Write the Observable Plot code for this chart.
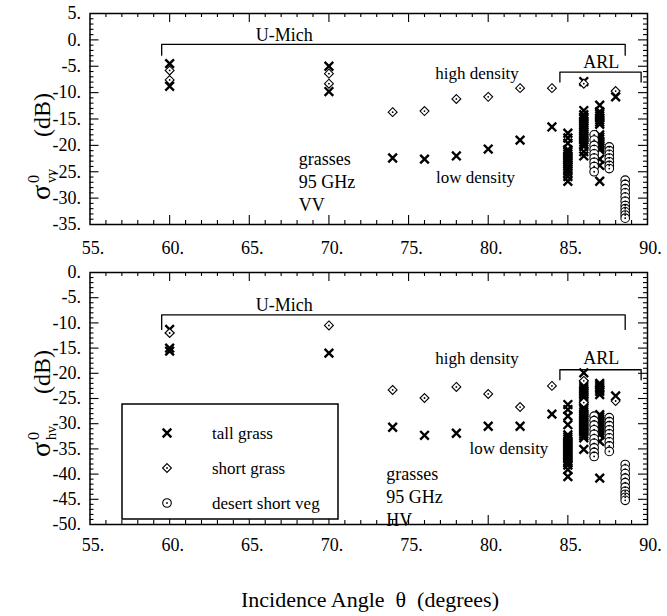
<!DOCTYPE html>
<html><head><meta charset="utf-8">
<script src="https://cdn.jsdelivr.net/npm/d3@7"></script>
<script src="https://cdn.jsdelivr.net/npm/@observablehq/plot@0.6"></script>
<style>
body{margin:0;background:#fff;}
#chart{position:relative;width:667px;height:616px;}
#chart svg{position:absolute;left:0;}
#chart svg text{font-family:"Liberation Serif","DejaVu Serif","Noto Serif",serif !important;}
</style></head><body><div id="chart"></div>
<script>
// ---------- data ----------
const xTickLabels = [55, 60, 65, 70, 75, 80, 85, 90];
const vvTickLabels = [5, 0, -5, -10, -15, -20, -25, -30, -35];
const hvTickLabels = [0, -5, -10, -15, -20, -25, -30, -35, -40, -45, -50];

// VV panel: [incidence angle, sigma0 dB]
const vvTallGrass = [[60,-4.5],[60,-8.8],[70,-5.0],[70,-9.8],[74,-22.4],[76,-22.6],[78,-22.0],[80,-20.7],[82,-19.0],[84,-16.5],[86,-7.9],[88,-10.8]];
const vvTallARL85 = [-17.7,-18.6,-19.6,-20.8,-21.2,-21.6,-22.0,-22.4,-22.8,-23.2,-23.6,-24.0,-24.4,-24.8,-25.2,-25.9,-26.8];
const vvTallARL86 = [-13.4,-14.2,-14.6,-15.0,-15.4,-15.8,-16.2,-16.6,-17.0,-17.4,-17.8,-18.2,-18.6,-19.0,-19.4,-19.8,-20.2,-21.2,-22.0];
const vvTallARL87 = [-12.4,-13.6,-14.0,-14.4,-14.8,-15.2,-15.6,-16.0,-18.0,-18.4,-18.8,-19.2,-19.6,-20.0,-20.4,-20.8,-22.6,-23.8,-26.8];
const vvShortGrass = [[60,-5.8],[60,-7.6],[70,-6.4],[70,-8.3],[74,-13.7],[76,-13.5],[78,-11.2],[80,-10.8],[82,-9.15],[84,-9.15],[86,-8.3],[88,-9.7]];
const vvDesert866 = [-18.0,-19.0,-20.0,-20.8,-21.6,-22.4,-23.2,-24.0,-25.0];
const vvDesert876 = [-20.3,-21.0,-21.7,-22.4,-23.1,-23.8,-24.4];
const vvDesert886 = [-26.6,-27.4,-28.2,-29.0,-29.8,-30.6,-31.4,-32.0,-32.6,-33.2,-33.8];

// HV panel
const hvTallGrass = [[60,-11.3],[60,-15.0],[60,-15.6],[70,-16.0],[74,-30.7],[76,-32.3],[78,-31.9],[80,-30.5],[82,-30.5],[84,-28.1],[88,-24.5]];
const hvTallARL85 = [-26.2,-27.2,-28.5,-30.2,-32.2,-32.6,-33.0,-33.4,-33.8,-34.2,-34.6,-35.0,-35.4,-35.8,-36.2,-36.6,-37.0,-37.4,-37.8,-38.2,-39.1,-40.5];
const hvTallARL86 = [-19.9,-22.2,-22.6,-23.0,-23.4,-23.8,-24.2,-24.6,-25.0,-25.5,-26.8,-27.2,-27.6,-28.0,-28.4,-28.8,-29.2,-29.6,-30.0,-30.4,-30.8,-31.2,-31.6,-32.0,-32.4,-32.8,-35.1];
const hvTallARL87 = [-22.0,-22.4,-22.8,-23.2,-23.6,-24.2,-28.2,-28.6,-29.0,-29.4,-29.8,-30.2,-30.6,-31.0,-31.4,-31.8,-32.2,-33.5,-40.8];
const hvShortGrass = [[60,-12.0],[70,-10.5],[74,-23.3],[76,-24.9],[78,-22.7],[80,-24.1],[82,-26.7],[84,-22.5],[86,-21.5],[86,-25.8],[88,-25.5]];
const hvDesert866 = [-28.5,-29.4,-30.3,-31.2,-32.1,-33.0,-33.9,-34.8,-35.7,-36.5];
const hvDesert876 = [-28.8,-29.6,-30.4,-31.2,-32.0,-32.8,-33.6,-34.4,-35.5];
const hvDesert886 = [-38.1,-39.0,-39.9,-40.8,-41.7,-42.6,-43.4,-44.0,-44.6,-45.2];

// annotations
const vvBrackets = [
  {label: "U-Mich", x1: 59.5, x2: 88.6, y: -0.85, end: -2.9, lx: 67.2, ly: 0.9},
  {label: "ARL", x1: 84.5, x2: 89.6, y: -6.1, end: -8.0, lx: 87.1, ly: -4.2}
];
const hvBrackets = [
  {label: "U-Mich", x1: 59.5, x2: 88.6, y: -8.4, end: -11.3, lx: 67.2, ly: -6.4},
  {label: "ARL", x1: 84.5, x2: 89.6, y: -19.3, end: -21.3, lx: 87.1, ly: -17.1}
];
const vvNotes = [{text: "high density", x: 79.3, y: -6.3}, {text: "low density", x: 79.2, y: -26.1}];
const hvNotes = [{text: "high density", x: 79.3, y: -17.1}, {text: "low density", x: 81.3, y: -34.9}];
const vvInfo = [{text: "grasses\n95 GHz\nVV", x: 68.1, y: -26.7}];
const hvInfo = [{text: "grasses\n95 GHz\nHV", x: 73.6, y: -44.2}];
const legendItems = ["tall grass", "short grass", "desert short veg"];

// ---------- drawing ----------
const FONT = "'Liberation Serif', 'DejaVu Serif', serif";
const fmt = d => (d < 0 ? "-" : "") + Math.abs(d) + ".";
const cols = list => list.flatMap(([a, vals]) => vals.map(v => [a, v]));

function panel(o) {
  const W = 667, ML = 89.5, MR = 20;
  const ph = o.height - o.marginTop - o.marginBottom;
  const pw = W - ML - MR;
  const [y0, y1] = o.yDomain;
  const xMinor = d3.range(56, 90).filter(d => d % 5 !== 0);
  const xMajor = [60, 65, 70, 75, 80, 85];
  const yMinor = d3.range(y0 + 1, y1).filter(d => d % 5 !== 0);
  const yMajor = o.yTicks.filter(d => d !== y0 && d !== y1);
  const tall = o.tall.concat(cols(o.tallCols));
  const desert = cols(o.desertCols);
  const bracketPts = o.brackets.flatMap((b, i) => [
    {i, x: b.x1, y: b.end}, {i, x: b.x1, y: b.y}, {i, x: b.x2, y: b.y}, {i, x: b.x2, y: b.end}
  ]);
  const tk = {stroke: "black", strokeWidth: 1.1};
  return Plot.plot({
    width: W, height: o.height,
    marginTop: o.marginTop, marginBottom: o.marginBottom, marginLeft: ML, marginRight: MR,
    x: {domain: [55, 90], label: null},
    y: {domain: o.yDomain, label: null},
    style: {fontFamily: FONT, fontSize: "18px", color: "black", background: "transparent"},
    marks: [
      Plot.axisX(xTickLabels, {tickSize: 0, tickPadding: o.xPad, tickFormat: fmt, fontSize: 18, dx: 3}),
      Plot.axisY(o.yTicks, {tickSize: 0, tickPadding: 9, tickFormat: fmt, fontSize: 18}),
      Plot.ruleX(xMinor, {x: d => d, insetTop: ph - 4, ...tk}),
      Plot.ruleX(xMinor, {x: d => d, insetBottom: ph - 4, ...tk}),
      Plot.ruleX(xMajor, {x: d => d, insetTop: ph - 9, ...tk}),
      Plot.ruleX(xMajor, {x: d => d, insetBottom: ph - 9, ...tk}),
      Plot.ruleY(yMinor, {y: d => d, insetRight: pw - 4, ...tk}),
      Plot.ruleY(yMinor, {y: d => d, insetLeft: pw - 4, ...tk}),
      Plot.ruleY(yMajor, {y: d => d, insetRight: pw - 9, ...tk}),
      Plot.ruleY(yMajor, {y: d => d, insetLeft: pw - 9, ...tk}),
      Plot.frame({stroke: "black", strokeWidth: 1.5}),
      Plot.line(bracketPts, {x: "x", y: "y", z: "i", stroke: "black", strokeWidth: 1.3}),
      Plot.text(o.brackets, {x: "lx", y: "ly", text: "label", fontSize: 18, fill: "black"}),
      Plot.text(o.notes, {x: "x", y: "y", text: "text", fontSize: 17, fill: "black"}),
      Plot.text(o.info, {x: "x", y: "y", text: "text", fontSize: 18, textAnchor: "start", lineHeight: 1.28, fill: "black"}),
      Plot.dot(tall, {x: d => d[0], y: d => d[1], symbol: "times", r: 4, stroke: "black", strokeWidth: 2.4}),
      Plot.dot(o.short, {x: d => d[0], y: d => d[1], symbol: "diamond2", r: 4, stroke: "black", fill: "white", strokeWidth: 1.1}),
      Plot.dot(o.short, {x: d => d[0], y: d => d[1], r: 0.9, fill: "black"}),
      Plot.dot(desert, {x: d => d[0], y: d => d[1], symbol: "circle", r: 4.3, stroke: "black", fill: "white", strokeWidth: 1.1}),
      Plot.dot(desert, {x: d => d[0], y: d => d[1], r: 0.9, fill: "black"})
    ]
  });
}

function yTitle(svg, sub, x, y) {
  const g = d3.select(svg).append("g")
    .attr("transform", `translate(${x},${y}) rotate(-90)`)
    .attr("text-anchor", "start").attr("fill", "black");
  g.append("text").attr("x", 0).attr("y", 0).attr("font-size", 28).attr("text-anchor", "start").text("σ");
  g.append("text").attr("x", 17).attr("y", -11).attr("font-size", 16).attr("text-anchor", "start").text("0");
  g.append("text").attr("x", 17).attr("y", 6).attr("font-size", 14).attr("text-anchor", "start").text(sub);
  g.append("text").attr("x", 63).attr("y", 0).attr("font-size", 24).attr("text-anchor", "start").text("(dB)");
}

const chartDiv = document.getElementById("chart");

const topSvg = panel({
  height: 262, marginTop: 13, marginBottom: 38, yDomain: [-35, 5], yTicks: vvTickLabels, xPad: 17,
  tall: vvTallGrass, tallCols: [[85, vvTallARL85], [86, vvTallARL86], [87, vvTallARL87]],
  short: vvShortGrass, desertCols: [[86.65, vvDesert866], [87.6, vvDesert876], [88.6, vvDesert886]],
  brackets: vvBrackets, notes: vvNotes, info: vvInfo
});
topSvg.style.top = "0px";
yTitle(topSvg, "vv", 50, 200);
chartDiv.appendChild(topSvg);

const botSvg = panel({
  height: 354, marginTop: 10, marginBottom: 92, yDomain: [-50, 0], yTicks: hvTickLabels, xPad: 14,
  tall: hvTallGrass, tallCols: [[85, hvTallARL85], [86, hvTallARL86], [87, hvTallARL87]],
  short: hvShortGrass, desertCols: [[86.65, hvDesert866], [87.6, hvDesert876], [88.6, hvDesert886]],
  brackets: hvBrackets, notes: hvNotes, info: hvInfo
});
botSvg.style.top = "262px";
yTitle(botSvg, "hv", 50, 195);

// legend box (pixel layout inside the lower panel)
const sb = d3.select(botSvg);
const lg = sb.append("g").attr("text-anchor", "start");
lg.append("rect").attr("x", 122).attr("y", 142).attr("width", 216).attr("height", 115)
  .attr("fill", "white").attr("stroke", "black").attr("stroke-width", 1.5);
const symTypes = [d3.symbolTimes, d3.symbolDiamond2, d3.symbolCircle];
legendItems.forEach((name, i) => {
  const cy = 171 + i * 35;
  const size = Math.PI * (i === 2 ? 4.3 * 4.3 : 16);
  lg.append("path").attr("transform", `translate(167,${cy})`)
    .attr("d", d3.symbol(symTypes[i], size)())
    .attr("fill", i === 0 ? "none" : "white").attr("stroke", "black")
    .attr("stroke-width", i === 0 ? 2.4 : 1.1);
  if (i > 0) lg.append("circle").attr("cx", 167).attr("cy", cy).attr("r", 0.9).attr("fill", "black");
  lg.append("text").attr("x", 212).attr("y", cy + 6).attr("font-size", 17)
    .attr("text-anchor", "start").attr("fill", "black").text(name);
});

// x title
sb.append("text").attr("x", 370).attr("y", 345).attr("text-anchor", "middle")
  .attr("font-size", 22).attr("fill", "black")
  .text("Incidence Angle\u2002θ\u2002(degrees)");
chartDiv.appendChild(botSvg);
</script></body></html>
